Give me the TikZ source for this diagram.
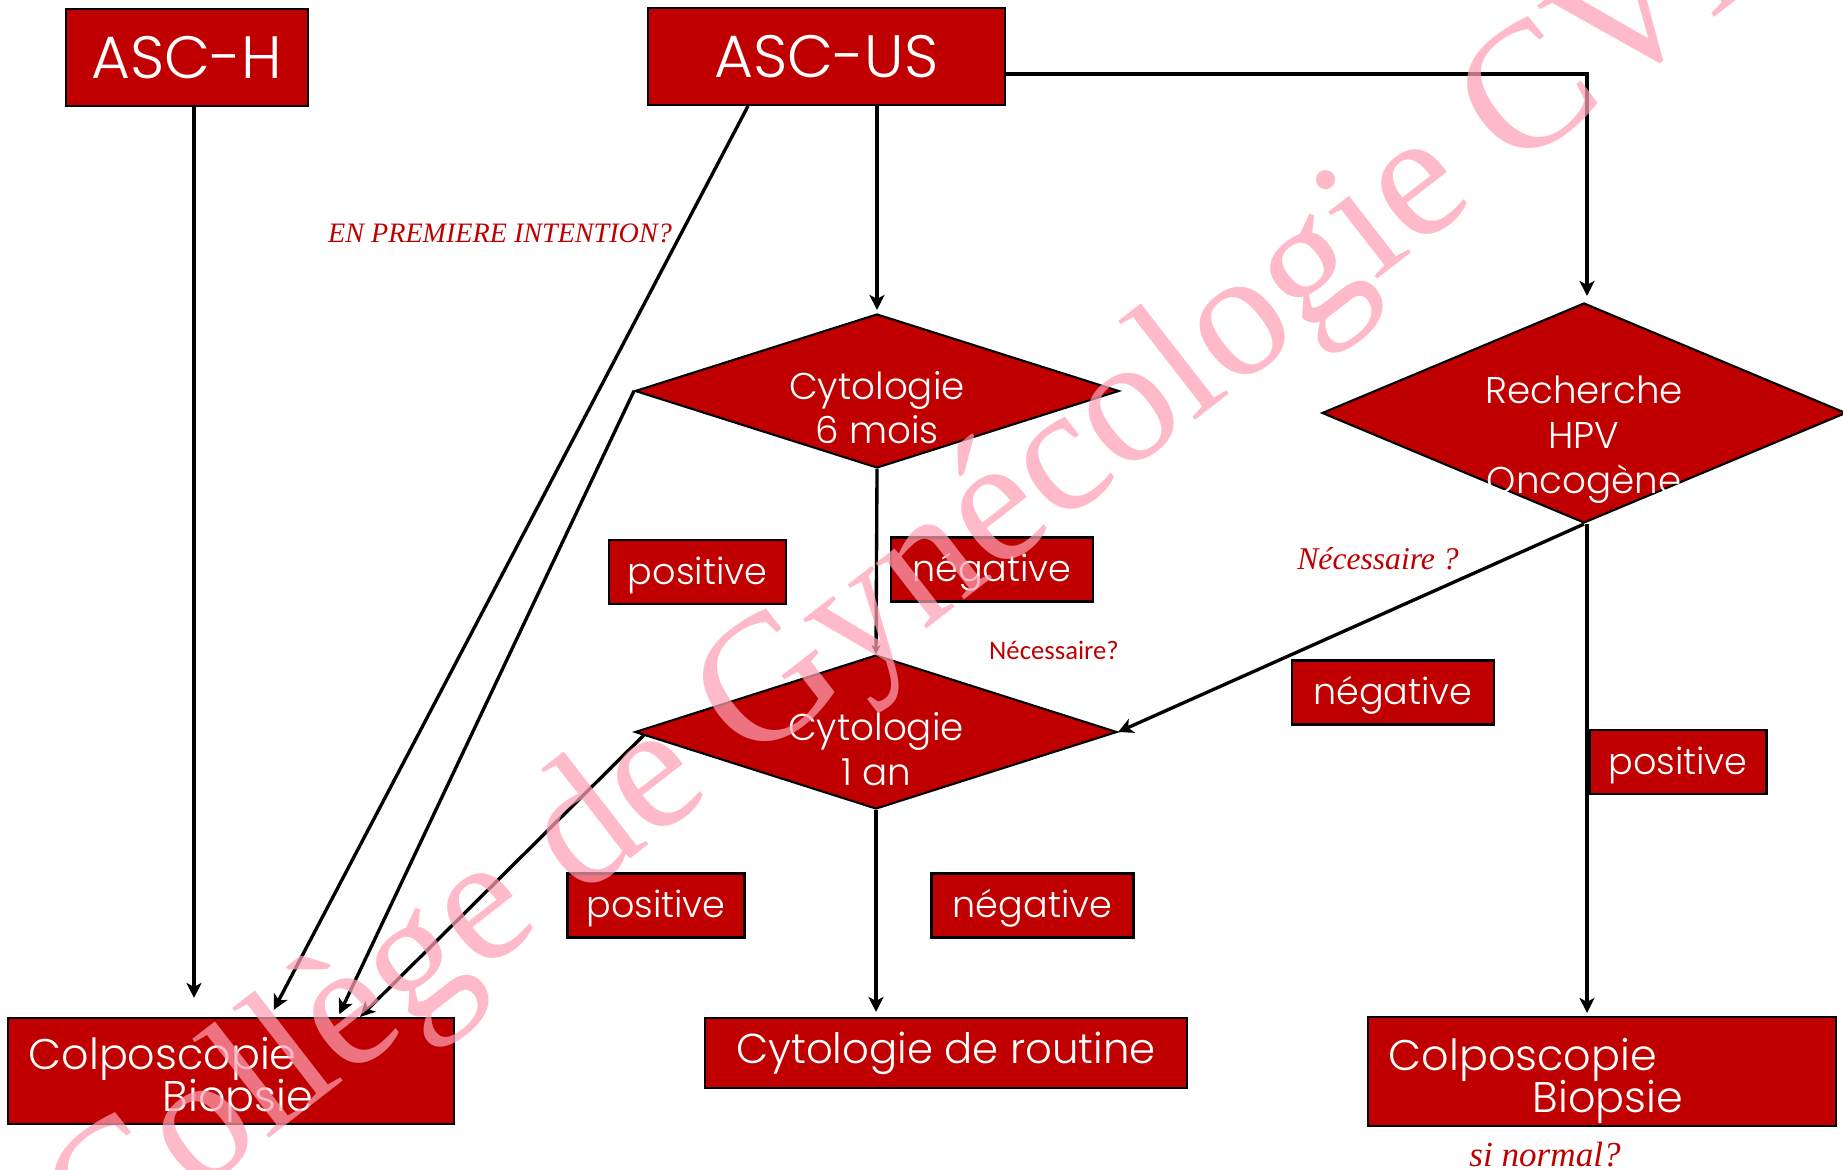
\documentclass[tikz,border=0pt]{standalone}
\usepackage{fontspec}
\setmainfont{Poppins}[UprightFont={* Light}]
\newfontfamily\camb{Liberation Serif}
\newfontfamily\calib{Carlito}
\usetikzlibrary{shapes.geometric,arrows.meta,positioning}

\definecolor{boxred}{RGB}{192,0,0}
\definecolor{wmpink}{RGB}{255,160,180}
\newcommand\tightlines{\lineskiplimit-20pt\relax}

\begin{document}
\begin{tikzpicture}[scale=1,
    box/.style={draw=black,line width=0.6pt,fill=boxred,text=white,inner sep=0pt},
    diam/.style={diamond,draw=black,line width=0.6pt,fill=boxred,inner sep=0pt},
    lab/.style={box,minimum width=1.77cm,minimum height=0.64cm,text height=0.30cm,text depth=0.06cm,font=\fontsize{10.4}{12}\selectfont},
    dtxt/.style={text=white,align=center,inner sep=0pt,font=\fontsize{10.6}{12.6}\selectfont\tightlines},
    rtxt/.style={text=white,align=left,inner sep=0pt,anchor=west,font=\fontsize{12.2}{11.9}\selectfont\tightlines},
    note/.style={text=boxred,inner sep=0pt,font=\camb\itshape\fontsize{8}{9}\selectfont},
    flow/.style={-{Stealth[length=0.15cm,width=0.15cm,inset=0.04cm]},line width=0.95pt}]
    \useasboundingbox (0,0) rectangle (18.43,-11.70);

    %starting boxes
    \node[box,minimum width=2.42cm,minimum height=0.97cm,font=\fontsize{17}{20}\selectfont] (asch) at (1.87,-0.575) {ASC-H};
    \node[box,minimum width=3.57cm,minimum height=0.97cm,font=\fontsize{17}{20}\selectfont] (ascus) at (8.265,-0.565) {ASC-US};

    %tests
    \node[diam,minimum width=4.84cm,minimum height=1.54cm] (cyto6) at (8.77,-3.91) {};
    \node[dtxt] at ([yshift=-0.17cm]cyto6.center) {Cytologie\\6 mois};
    \node[diam,minimum width=4.82cm,minimum height=1.54cm] (cyto1) at (8.76,-7.32) {};
    \node[dtxt] at ([yshift=-0.17cm]cyto1.center) {Cytologie\\1 an};
    \node[diam,minimum width=5.24cm,minimum height=2.20cm] (hpv) at (15.84,-4.13) {};
    \node[dtxt,font=\fontsize{10.6}{12.8}\selectfont\tightlines] at ([yshift=-0.265cm]hpv.center) {Recherche\\HPV\\Oncogène};

    %outcomes
    \node[box,minimum width=4.46cm,minimum height=1.06cm] (colpoL) at (2.31,-10.71) {};
    \node[rtxt] at ([xshift=0.21cm,yshift=-0.09cm]colpoL.west) {Colposcopie\\\hspace*{1.34cm}Biopsie};
    \node[box,minimum width=4.82cm,minimum height=0.70cm,font=\fontsize{11.9}{14}\selectfont] (routine) at (9.46,-10.53) {Cytologie de routine};
    \node[box,minimum width=4.68cm,minimum height=1.09cm] (colpoR) at (16.02,-10.715) {};
    \node[rtxt] at ([xshift=0.21cm,yshift=-0.09cm]colpoR.west) {Colposcopie\\\hspace*{1.44cm}Biopsie};

    %answers
    \node[lab] (posA) at (6.975,-5.72) {positive};
    \node[lab,minimum width=2.02cm] (negA) at (9.92,-5.695) {négative};
    \node[lab,minimum width=2.02cm] (negB) at (13.93,-6.925) {négative};
    \node[lab] (posB) at (16.78,-7.62) {positive};
    \node[lab] (posC) at (6.56,-9.055) {positive};
    \node[lab,minimum width=2.02cm] (negC) at (10.325,-9.055) {négative};

    %questions
    \node[note] (first) at (5.00,-2.33) {EN PREMIERE INTENTION?};
    \node[note,font=\camb\itshape\fontsize{9}{10}\selectfont] (needA) at (13.78,-5.59) {Nécessaire ?};
    \node[text=boxred,inner sep=0pt,font=\calib\fontsize{7.6}{9}\selectfont] (needB) at (10.54,-6.50) {Nécessaire?};
    \node[note,anchor=base,font=\camb\itshape\fontsize{10}{11}\selectfont] (ifnorm) at (15.45,-11.66) {si normal?};

    %arrows
    \draw[flow,shorten >=0.19cm] ([xshift=0.07cm]asch.south) -- ([xshift=-0.37cm]colpoL.north);
    \draw[flow,shorten >=0.08cm] ([xshift=-0.785cm]ascus.south) -- ([xshift=0.39cm]colpoL.north);
    \draw[flow,shorten >=0.03cm] (cyto6.west) -- ([xshift=1.07cm]colpoL.north);
    \draw[flow] ([xshift=0.1cm,yshift=-0.03cm]cyto1.west) -- ([xshift=1.29cm]colpoL.north);
    \draw[flow,shorten >=0.03cm] ([xshift=0.505cm]ascus.south) -- (cyto6.north);
    \draw[-{Stealth[length=0.09cm,width=0.09cm]},line width=0.95pt] (cyto6.south) -- (cyto1.north);
    \draw[flow,shorten >=0.05cm] (cyto1.south) -- (cyto1.south |- routine.north);
    \draw[flow,shorten >=0.06cm] ([yshift=-0.175cm]ascus.east) -| ([xshift=0.03cm]hpv.north);
    \draw[flow] (hpv.south) -- (cyto1.east);
    \draw[flow,shorten >=0.03cm] ([xshift=0.03cm]hpv.south) -- ([xshift=0.03cm]hpv.south |- colpoR.north);

    %watermark
    \node[rotate=37.8,anchor=base west,inner sep=0pt,text=wmpink,opacity=0.72,font=\camb\fontsize{51.3}{60}\selectfont] (wm) at (1.00,-12.70) {Collège de Gynécologie CVL};
\end{tikzpicture}
\end{document}
